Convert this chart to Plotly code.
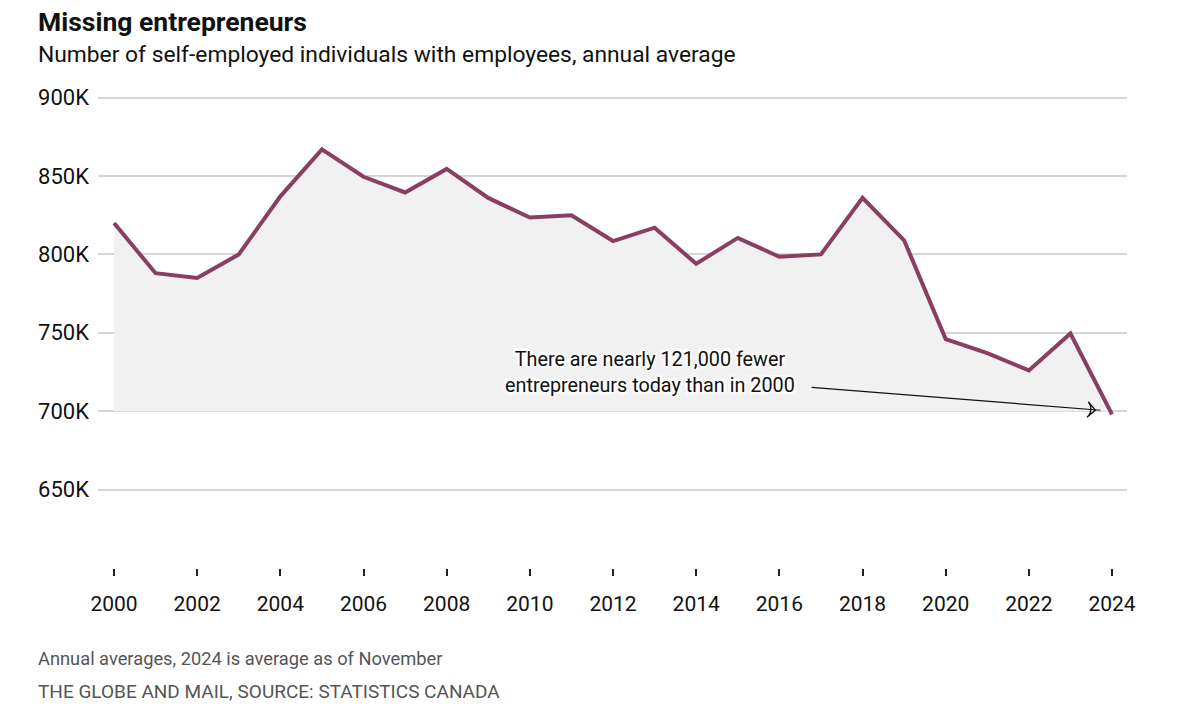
import plotly.graph_objects as go

years = list(range(2000, 2025))
values = [820000, 788000, 785000, 800000, 837000, 867000, 849500, 839500, 854500,
          836000, 823500, 825000, 808500, 817000, 794000, 810500, 798500, 800000,
          836000, 809000, 746000, 737000, 726000, 749500, 698000]
baseline = [700000] * len(years)
y_ticks = [650000, 700000, 750000, 800000, 850000, 900000]
y_labels = ["650K", "700K", "750K", "800K", "850K", "900K"]
x_ticks = list(range(2000, 2025, 2))

LINE = "#8a3f62"
FONT = "Roboto"

W, H = 1200, 727
L, T = 98, 96
plot_bottom = 568
pw = 1029
R = W - L - pw
B = H - plot_bottom
ph = plot_bottom - T

def px(x):
    return (x - L) / pw

def py(y):
    return (plot_bottom - y) / ph

fig = go.Figure()
fig.add_trace(go.Scatter(x=years, y=baseline, mode="lines", line=dict(width=0),
                         hoverinfo="skip", showlegend=False))
fig.add_trace(go.Scatter(x=years, y=values, mode="lines", fill="tonexty",
                         fillcolor="#f1f1f1", line=dict(color=LINE, width=4),
                         showlegend=False))

annotations = [
    dict(text="<b>Missing entrepreneurs</b>", x=px(36), y=py(21), xref="paper", yref="paper",
         xanchor="left", yanchor="middle", showarrow=False,
         font=dict(family=FONT, size=26.5, color="#111")),
    dict(text="Number of self-employed individuals with employees, annual average",
         x=px(36), y=py(55), xref="paper", yref="paper", xanchor="left", yanchor="middle",
         showarrow=False, font=dict(family=FONT, size=22.8, color="#111")),
    dict(text="Annual averages, 2024 is average as of November",
         x=px(36), y=py(658), xref="paper", yref="paper", xanchor="left", yanchor="middle",
         showarrow=False, font=dict(family=FONT, size=18.3, color="#555")),
    dict(text="THE GLOBE AND MAIL, SOURCE: STATISTICS CANADA",
         x=px(36), y=py(691), xref="paper", yref="paper", xanchor="left", yanchor="middle",
         showarrow=False, font=dict(family=FONT, size=19, color="#555")),
    dict(text="There are nearly 121,000 fewer<br>entrepreneurs today than in 2000",
         x=2012.9, y=724500, xref="x", yref="y", xanchor="center", yanchor="middle",
         showarrow=False, align="center",
         font=dict(family=FONT, size=19.8, color="#111",
                   shadow="2px 2px 2px #fff, -2px -2px 2px #fff, 2px -2px 2px #fff, -2px 2px 2px #fff")),
    dict(text="", x=2023.72, y=700600, ax=2016.74, ay=715300, xref="x", yref="y",
         axref="x", ayref="y", showarrow=True, arrowhead=0, arrowwidth=1.2,
         arrowcolor="#111"),
]

fig.add_trace(go.Scatter(x=[2023.6], y=[700700], mode="markers", hoverinfo="skip",
                         showlegend=False,
                         marker=dict(symbol="arrow-wide-open", size=11, angle=94.6,
                                     line=dict(color="#111", width=1.3), color="#111")))

fig.update_layout(
    width=W, height=H, margin=dict(l=L, r=R, t=T, b=B),
    paper_bgcolor="white", plot_bgcolor="white",
    annotations=annotations,
    xaxis=dict(range=[1999.615, 2024.36], tickvals=x_ticks, showgrid=False, zeroline=False,
               showline=False, ticks="outside", ticklen=7, tickwidth=1.5, tickcolor="#222",
               ticklabelstandoff=10,
               tickfont=dict(family=FONT, size=21, color="#111"), fixedrange=True),
    yaxis=dict(range=[600000, 901000], tickvals=y_ticks, ticktext=y_labels, showgrid=True,
               gridcolor="#d6d6d6", gridwidth=1.5, zeroline=False, showline=False,
               ticks="", ticklabelstandoff=8,
               tickfont=dict(family=FONT, size=22, color="#111"), fixedrange=True),
    showlegend=False,
)

fig.write_html("out.html", config={"displayModeBar": False},
               post_script="document.body.style.margin='0';")
